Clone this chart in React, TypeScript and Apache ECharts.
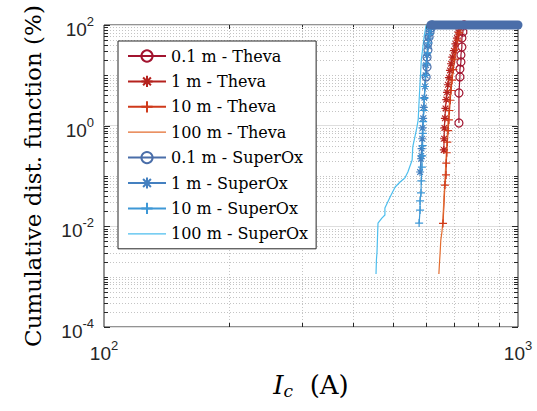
import React, { useEffect, useRef } from 'react';
import * as echarts from 'echarts';

// ---------- data (Ic in A, cumulative distribution in %) ----------
const seriesNames = [
  '0.1 m - Theva',
  '1 m - Theva',
  '10 m - Theva',
  '100 m - Theva',
  '0.1 m - SuperOx',
  '1 m - SuperOx',
  '10 m - SuperOx',
  '100 m - SuperOx',
];

const theva01m: [number, number][] = [
  [720, 1.13], [720, 4.46], [724, 9.3], [724, 13.3], [728, 18.4], [728, 25.3],
  [732, 36.5], [732, 55], [736, 72.6], [741, 100],
];
const theva1m: [number, number][] = [
  [662, 0.33], [663, 0.55], [664, 0.9], [666, 1.4], [668, 2.2], [671, 3.3],
  [674, 4.6], [677, 6.5], [681, 9], [685, 12.5], [689, 17], [694, 23],
  [700, 31], [706, 42], [712, 55], [718, 72], [724, 88], [728, 100],
];
const theva10m: [number, number][] = [
  [659, 0.0114], [666, 0.066], [670, 0.105], [671, 0.18], [673, 0.29], [675, 0.47],
  [678, 0.8], [681, 1.3], [683, 2], [686, 3.2], [689, 5], [693, 8], [698, 13],
  [703, 21], [709, 33], [715, 50], [721, 70], [727, 90], [732, 100],
];
const theva100m: [number, number][] = [
  [644, 0.00113], [646, 0.0018], [648, 0.0027], [651, 0.0054], [655, 0.0077],
  [658, 0.0116], [662, 0.033], [666, 0.08], [670, 0.21], [674, 0.52], [678, 1.3],
  [684, 3.2], [690, 8], [698, 20], [708, 46], [720, 80], [730, 100],
];
const superox01m: [number, number][] = [
  [600, 9.3], [603, 14.6], [603, 23], [606, 31.8], [606, 44], [610, 57.7],
  [613, 72.6], [617, 87], [620, 100],
];
const superox1m: [number, number][] = [
  [580, 0.12], [583, 0.22], [584, 0.25], [585, 0.35], [587, 0.55], [588, 0.9],
  [590, 1.4], [592, 2.3], [594, 3.6], [596, 6], [598, 10], [600, 16], [603, 25],
  [606, 38], [609, 55], [613, 75], [617, 92], [620, 100],
];
const superox10m: [number, number][] = [
  [577, 0.0116], [580, 0.021], [580, 0.032], [583, 0.046], [584, 0.08], [586, 0.15],
  [587, 0.25], [588, 0.4], [589, 0.7], [590, 1.2], [592, 2], [594, 3.5], [596, 6],
  [598, 10], [601, 17], [604, 28], [607, 44], [611, 65], [615, 85], [619, 100],
];
const superox100m: [number, number][] = [
  [454, 0.00113], [455, 0.00214], [456.5, 0.0031], [459, 0.0116], [469, 0.0146],
  [477, 0.0168], [477, 0.0231], [491, 0.0383], [505, 0.0604], [519, 0.076],
  [533, 0.0912], [542, 0.12], [555, 0.208], [557, 0.377], [570, 0.94], [574, 1.3],
  [577, 3.2], [584, 20], [594, 63], [600, 100],
];
// saturated part: all samples at 100 % up to the axis end
const saturated: [number, number][] = [[616, 100], [1000, 100]];

// axis ticks
const xMin = 100;
const xMax = 1000;
const yMin = 1e-4;
const yMax = 1e2;
const xMinorTicks = [200, 300, 400, 500, 600, 700, 800, 900];
const yDecadeExponents = [-4, -3, -2, -1, 0, 1];
const yMantissas = [2, 3, 4, 5, 6, 7, 8, 9];
const yOddDecades = [1e-3, 1e-1, 1e1];
const yMajorTicks = [1e-4, 1e-2, 1e0, 1e2];

const yMinorTicks: number[] = [];
yDecadeExponents.forEach((e) => yMantissas.forEach((m) => yMinorTicks.push(m * Math.pow(10, e))));
yOddDecades.forEach((v) => yMinorTicks.push(v));

// ---------- styles ----------
const colors = ['#A2142F', '#B5221E', '#CF3A1B', '#E36C2F', '#4A6EA9', '#4480C0', '#3E98D6', '#4DBEEE'];
const AXIS_COLOR = '#262626';
const GRID_MINOR = '#c4c4c4';
const GRID_MAJOR = '#dedede';
const PLUS = 'path://M5,0L5,10M0,5L10,5';
const STAR = 'path://M5,0L5,10M0,5L10,5M1.5,1.5L8.5,8.5M1.5,8.5L8.5,1.5';
const LINE_ICON = 'path://M0,0L38,0L38,1.3L0,1.3Z';

function lineSeries(name: string, data: [number, number][], color: string, symbol: string | null) {
  return {
    name,
    type: 'line',
    data,
    symbol: symbol || 'none',
    showSymbol: !!symbol,
    symbolSize: 8,
    lineStyle: { color, width: 1.2 },
    itemStyle: symbol
      ? { color: 'rgba(0,0,0,0)', borderColor: color, borderWidth: 1.2 }
      : { color },
    z: 3,
    clip: false,
  };
}

export default function App() {
  const ref = useRef<HTMLDivElement>(null);

  useEffect(() => {
    if (!ref.current) return;
    const chart = echarts.init(ref.current, undefined, { renderer: 'svg' });

    const tickLabelRich = {
      b: { fontFamily: 'Liberation Sans', fontSize: 19, color: AXIS_COLOR, padding: [9, 0, 0, 0] },
      s: { fontFamily: 'Liberation Sans', fontSize: 13, color: AXIS_COLOR, padding: [0, 0, 7, 0] },
    };
    const expLabel = (v: number) => `{b|10}{s|${Math.round(Math.log10(v))}}`;

    const xGridItem = (params: any, api: any) => {
      const cs = params.coordSys;
      const px = Math.round(api.coord([api.value(0), 1])[0]) + 0.5;
      const top = cs.y;
      const bottom = cs.y + cs.height;
      return {
        type: 'group',
        children: [
          { type: 'line', shape: { x1: px, y1: top, x2: px, y2: bottom }, style: { stroke: GRID_MINOR, lineWidth: 1, lineDash: [1, 2] } },
          { type: 'line', shape: { x1: px, y1: bottom, x2: px, y2: bottom - 4 }, style: { stroke: AXIS_COLOR, lineWidth: 1 } },
          { type: 'line', shape: { x1: px, y1: top, x2: px, y2: top + 4 }, style: { stroke: AXIS_COLOR, lineWidth: 1 } },
        ],
      };
    };
    const yGridItem = (major: boolean) => (params: any, api: any) => {
      const cs = params.coordSys;
      const py = Math.round(api.coord([200, api.value(1)])[1]) + 0.5;
      const left = cs.x;
      const right = cs.x + cs.width;
      const len = major ? 6 : 4;
      const children: any[] = [
        { type: 'line', shape: { x1: left, y1: py, x2: left + len, y2: py }, style: { stroke: AXIS_COLOR, lineWidth: 1 } },
        { type: 'line', shape: { x1: right, y1: py, x2: right - len, y2: py }, style: { stroke: AXIS_COLOR, lineWidth: 1 } },
      ];
      if (!major) {
        children.unshift({ type: 'line', shape: { x1: left, y1: py, x2: right, y2: py }, style: { stroke: GRID_MINOR, lineWidth: 1, lineDash: [1, 2] } });
      }
      return { type: 'group', children };
    };

    const symbols = ['circle', STAR, PLUS, null, 'circle', STAR, PLUS, null];
    const datasets = [theva01m, theva1m, theva10m, theva100m, superox01m, superox1m, superox10m, superox100m];

    const legendData = seriesNames.map((n, i) =>
      symbols[i]
        ? { name: n }
        : { name: n, icon: LINE_ICON, itemStyle: { color: colors[i], borderWidth: 0 } }
    );

    chart.setOption({
      animation: false,
      backgroundColor: '#ffffff',
      grid: {
        left: 104,
        top: 25,
        width: 414,
        height: 302,
        show: true,
        borderColor: AXIS_COLOR,
        borderWidth: 1,
        backgroundColor: '#ffffff',
      },
      legend: {
        orient: 'vertical',
        left: 118,
        top: 41,
        padding: [7, 8, 7, 9],
        itemGap: 9.4,
        itemWidth: 38,
        itemHeight: 14,
        backgroundColor: '#ffffff',
        borderColor: AXIS_COLOR,
        borderWidth: 1,
        selectedMode: false,
        textStyle: { fontFamily: 'DejaVu Serif', fontSize: 16, color: '#000', lineHeight: 14 },
        data: legendData,
        z: 10,
      },
      xAxis: {
        type: 'log',
        logBase: 10,
        min: xMin,
        max: xMax,
        axisLine: { show: false },
        axisTick: { show: false },
        splitLine: { show: false },
        axisLabel: { margin: 8, formatter: expLabel, rich: tickLabelRich },
        name: '{i|I}{c|c}{n|  (A)}',
        nameLocation: 'middle',
        nameGap: 44,
        nameTextStyle: {
          rich: {
            i: { fontFamily: 'DejaVu Serif', fontStyle: 'italic', fontSize: 26, color: '#000' },
            c: { fontFamily: 'DejaVu Serif', fontStyle: 'italic', fontSize: 17, color: '#000', padding: [11, 0, 0, 0] },
            n: { fontFamily: 'DejaVu Serif', fontSize: 26, color: '#000' },
          },
        },
      },
      yAxis: {
        type: 'log',
        logBase: 100,
        min: yMin,
        max: yMax,
        axisLine: { show: false },
        axisTick: { show: false },
        splitLine: { show: true, lineStyle: { color: GRID_MAJOR, width: 1 } },
        axisLabel: { margin: 10, formatter: expLabel, rich: tickLabelRich },
        name: 'Cumulative dist. function (%)',
        nameLocation: 'middle',
        nameGap: 60,
        nameTextStyle: { fontFamily: 'DejaVu Serif', fontSize: 23, color: '#000' },
      },
      series: [
        {
          name: 'xgrid',
          type: 'custom',
          coordinateSystem: 'cartesian2d',
          data: xMinorTicks.map((v) => [v, 1]),
          renderItem: xGridItem,
          silent: true,
          z: 1,
        },
        {
          name: 'ygrid',
          type: 'custom',
          coordinateSystem: 'cartesian2d',
          data: yMinorTicks.map((v) => [200, v]),
          renderItem: yGridItem(false),
          silent: true,
          z: 1,
        },
        {
          name: 'ymajor',
          type: 'custom',
          coordinateSystem: 'cartesian2d',
          data: yMajorTicks.map((v) => [200, v]),
          renderItem: yGridItem(true),
          silent: true,
          z: 1,
        },
        ...seriesNames.map((n, i) => lineSeries(n, datasets[i], colors[i], symbols[i])),
        {
          name: 'saturated',
          type: 'line',
          data: saturated,
          symbol: 'none',
          lineStyle: { color: colors[4], width: 9, cap: 'round' },
          z: 4,
          clip: false,
          silent: true,
        },
      ],
    });

    return () => chart.dispose();
  }, []);

  return (
    <div
      ref={ref}
      style={{ position: 'fixed', left: 0, top: 0, width: 537, height: 411, background: '#fff' }}
    />
  );
}
